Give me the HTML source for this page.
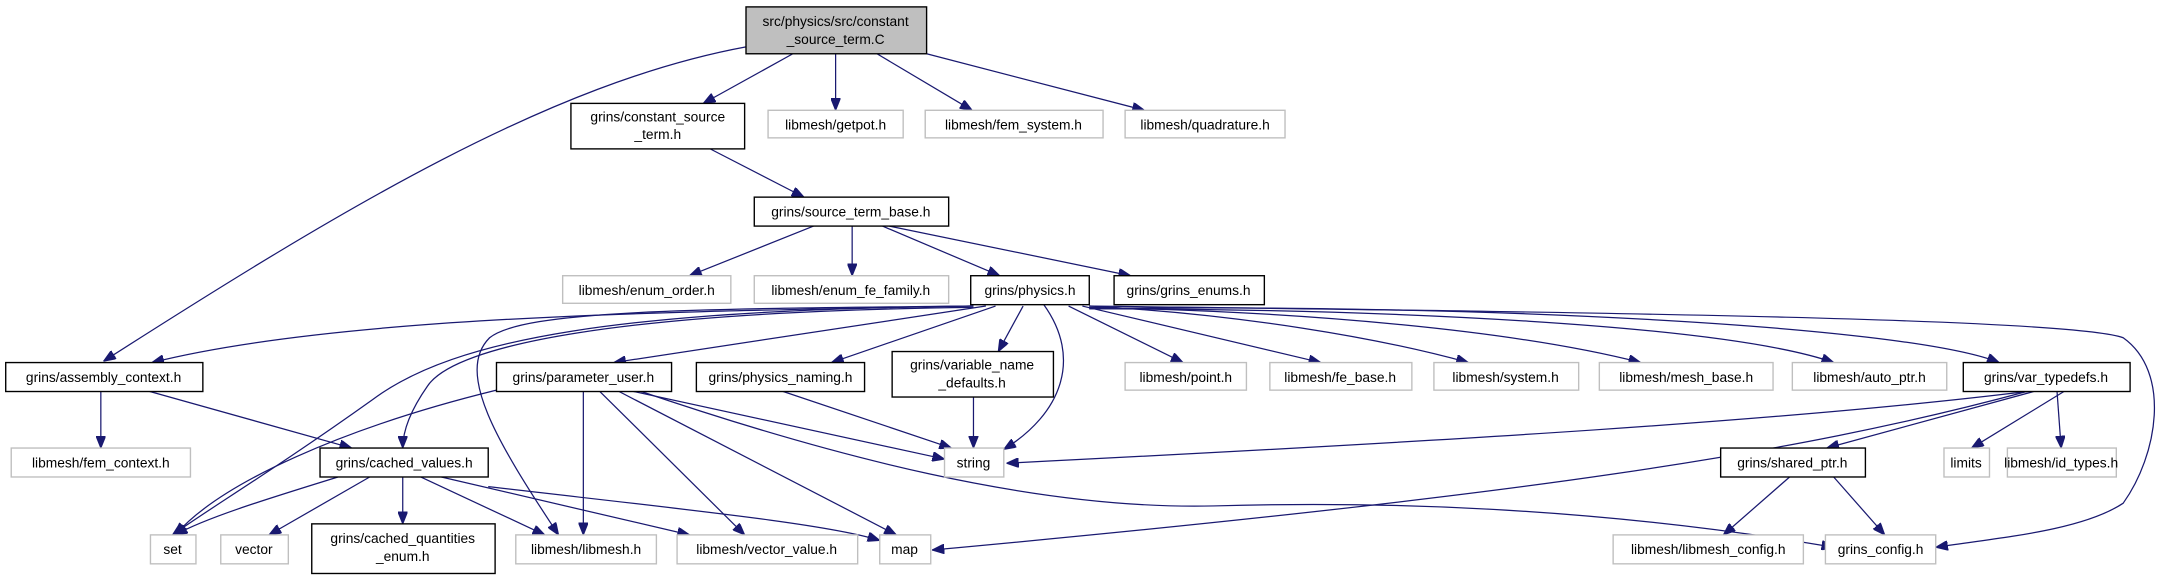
<!DOCTYPE html>
<html><head><meta charset="utf-8"><style>
html,body{margin:0;padding:0;background:#fff;}
svg{display:block}
text{font-family:"Liberation Sans","DejaVu Sans",sans-serif;font-size:10px;fill:#000;text-anchor:middle}
.n{fill:#fff;stroke:#000;stroke-width:1}
.g{fill:#fff;stroke:#bfbfbf;stroke-width:1}
path{fill:none;stroke:#191970;stroke-width:0.9}
</style></head><body>
<svg width="2162" height="579" viewBox="0 0 1568 420" xmlns="http://www.w3.org/2000/svg">
<defs><marker id="a" viewBox="0 0 10 8" refX="10" refY="4" markerWidth="9" markerHeight="7" markerUnits="userSpaceOnUse" orient="auto"><path d="M0,0 L10,4 L0,8 z" style="fill:#191970;stroke:#191970"/></marker></defs>
<g marker-end="url(#a)">
<path d="M541,34 C400,60 250,150 75,262"/>
<path d="M575,39 L510,75"/>
<path d="M606,39 L606,80"/>
<path d="M636,39 L705,80"/>
<path d="M672,39 L830,80"/>
<path d="M515,108 L583,143"/>
<path d="M590,164 L500,200"/>
<path d="M618,164 L618,200"/>
<path d="M640,164 L725,200"/>
<path d="M645,164 L820,200"/>
<path d="M704,222 C500,226 250,228 110,263"/>
<path d="M715,222 L445,263"/>
<path d="M722,222 L603,263"/>
<path d="M742,222 L724,255"/>
<path d="M757,221 C785,260 770,300 728,326"/>
<path d="M775,222 L858,263"/>
<path d="M785,222 L958,263"/>
<path d="M790,222 C900,228 1000,245 1065,263"/>
<path d="M790,223 C950,226 1100,240 1190,263"/>
<path d="M790,224 C1000,224 1250,235 1330,263"/>
<path d="M790,224 C1050,220 1380,235 1450,263"/>
<path d="M790,222 C1100,226 1500,230 1540,245 C1575,270 1565,330 1540,365 C1510,385 1450,390 1404,397"/>
<path d="M706,223 C450,226 330,250 310,280 C296,300 292,315 292,325"/>
<path d="M706,222 C450,225 330,245 270,290 C200,340 150,370 125,388"/>
<path d="M706,222 C500,224 380,225 355,245 C330,270 360,320 405,388"/>
<path d="M73,283 L73,325"/>
<path d="M105,283 L255,325"/>
<path d="M360,283 C250,310 160,350 127,388"/>
<path d="M423,283 L423,388"/>
<path d="M434,283 L540,388"/>
<path d="M447,283 L650,388"/>
<path d="M455,283 L685,333"/>
<path d="M462,283 C600,330 750,370 880,367 C1050,362 1200,375 1330,397"/>
<path d="M565,283 L690,325"/>
<path d="M706,288 L706,325"/>
<path d="M1470,284 C1300,305 1050,320 730,336"/>
<path d="M1470,284 C1300,330 1100,360 676,399"/>
<path d="M1475,284 L1325,325"/>
<path d="M1497,284 L1430,325"/>
<path d="M1492,284 L1495,325"/>
<path d="M1298,346 L1250,388"/>
<path d="M1330,346 L1367,388"/>
<path d="M245,346 C200,360 150,375 127,388"/>
<path d="M268,346 L195,388"/>
<path d="M292,346 L292,380"/>
<path d="M305,346 L395,388"/>
<path d="M320,346 L500,388"/>
<path d="M354,353 C500,370 600,380 638,392"/>
</g>
<rect x="541" y="5" width="131" height="34" style="fill:#bfbfbf;stroke:#000"/>
<text x="606" y="19">src/physics/src/constant</text><text x="606" y="32">_source_term.C</text>
<rect class="n" x="414" y="75" width="126" height="33"/><text x="477" y="88">grins/constant_source</text><text x="477" y="101">_term.h</text>
<rect class="g" x="557" y="80" width="98" height="20"/><text x="606" y="94">libmesh/getpot.h</text>
<rect class="g" x="671" y="80" width="129" height="20"/><text x="735" y="94">libmesh/fem_system.h</text>
<rect class="g" x="816" y="80" width="116" height="20"/><text x="874" y="94">libmesh/quadrature.h</text>
<rect class="n" x="547" y="143" width="141" height="21"/><text x="617" y="157">grins/source_term_base.h</text>
<rect class="g" x="408" y="200" width="122" height="20"/><text x="469" y="214">libmesh/enum_order.h</text>
<rect class="g" x="547" y="200" width="141" height="20"/><text x="617" y="214">libmesh/enum_fe_family.h</text>
<rect class="n" x="704" y="200" width="86" height="21"/><text x="747" y="214">grins/physics.h</text>
<rect class="n" x="808" y="200" width="109" height="21"/><text x="862" y="214">grins/grins_enums.h</text>
<rect class="n" x="4" y="263" width="143" height="21"/><text x="75" y="277">grins/assembly_context.h</text>
<rect class="n" x="360" y="263" width="127" height="21"/><text x="423" y="277">grins/parameter_user.h</text>
<rect class="n" x="505" y="263" width="122" height="21"/><text x="566" y="277">grins/physics_naming.h</text>
<rect class="n" x="647" y="255" width="117" height="33"/><text x="705" y="268">grins/variable_name</text><text x="705" y="281">_defaults.h</text>
<rect class="g" x="816" y="263" width="88" height="20"/><text x="860" y="277">libmesh/point.h</text>
<rect class="g" x="921" y="263" width="103" height="20"/><text x="972" y="277">libmesh/fe_base.h</text>
<rect class="g" x="1040" y="263" width="105" height="20"/><text x="1092" y="277">libmesh/system.h</text>
<rect class="g" x="1160" y="263" width="126" height="20"/><text x="1223" y="277">libmesh/mesh_base.h</text>
<rect class="g" x="1300" y="263" width="112" height="20"/><text x="1356" y="277">libmesh/auto_ptr.h</text>
<rect class="n" x="1424" y="263" width="121" height="21"/><text x="1484" y="277">grins/var_typedefs.h</text>
<rect class="g" x="8" y="325" width="130" height="21"/><text x="73" y="339">libmesh/fem_context.h</text>
<rect class="n" x="232" y="325" width="122" height="21"/><text x="293" y="339">grins/cached_values.h</text>
<rect class="g" x="685" y="325" width="43" height="21"/><text x="706" y="339">string</text>
<rect class="n" x="1248" y="325" width="105" height="21"/><text x="1300" y="339">grins/shared_ptr.h</text>
<rect class="g" x="1410" y="325" width="33" height="21"/><text x="1426" y="339">limits</text>
<rect class="g" x="1456" y="325" width="79" height="21"/><text x="1495" y="339">libmesh/id_types.h</text>
<rect class="g" x="109" y="388" width="33" height="21"/><text x="125" y="402">set</text>
<rect class="g" x="160" y="388" width="49" height="21"/><text x="184" y="402">vector</text>
<rect class="n" x="226" y="380" width="133" height="36"/><text x="292" y="394">grins/cached_quantities</text><text x="292" y="407">_enum.h</text>
<rect class="g" x="374" y="388" width="102" height="21"/><text x="425" y="402">libmesh/libmesh.h</text>
<rect class="g" x="491" y="388" width="131" height="21"/><text x="556" y="402">libmesh/vector_value.h</text>
<rect class="g" x="638" y="388" width="37" height="21"/><text x="656" y="402">map</text>
<rect class="g" x="1170" y="388" width="138" height="21"/><text x="1239" y="402">libmesh/libmesh_config.h</text>
<rect class="g" x="1324" y="388" width="80" height="21"/><text x="1364" y="402">grins_config.h</text>
</svg>
</body></html>
